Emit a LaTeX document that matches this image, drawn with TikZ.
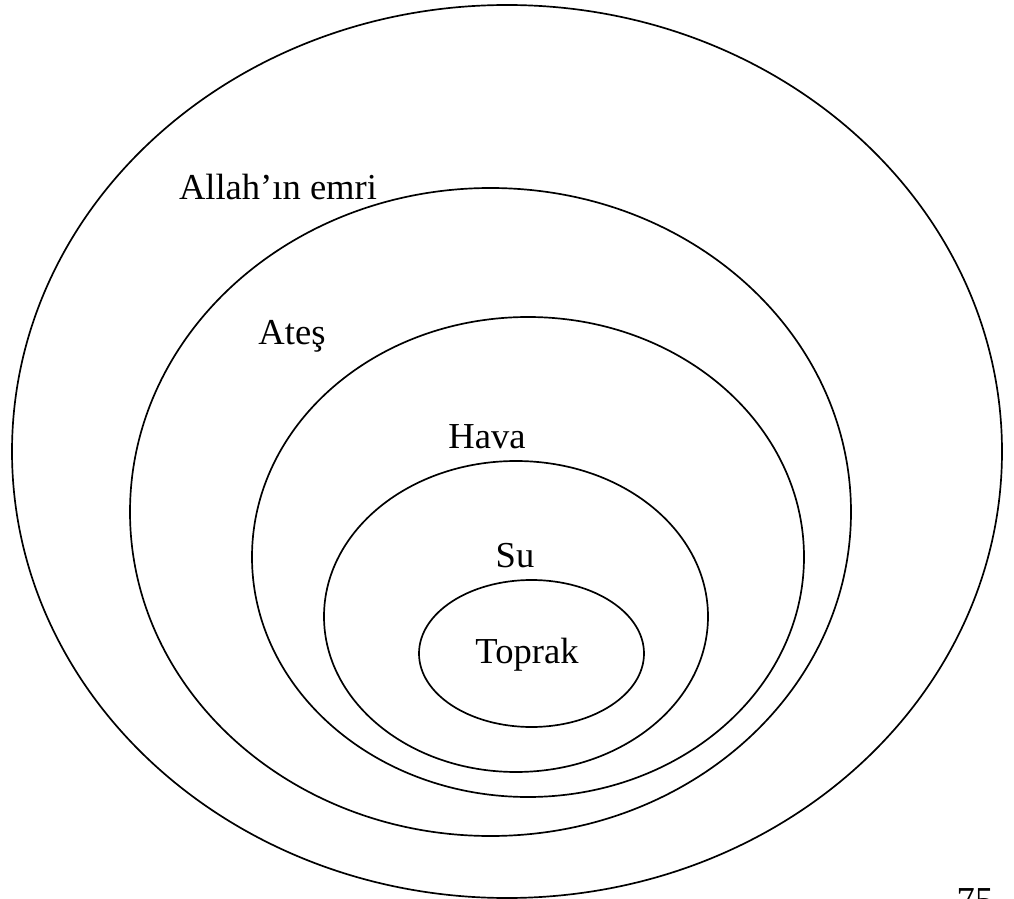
\documentclass[tikz,border=0pt]{standalone}
\usepackage{fontspec}
\setmainfont{Liberation Serif}
\newfontfamily\etiketfont{Liberation Serif}
\usepackage{tikz}

\tikzset{
  katman/.style={black, line width=1.2pt},
  etiket/.style={anchor=base, inner sep=0pt, font=\etiketfont\fontsize{26}{30}\selectfont}
}

\begin{document}
\begin{tikzpicture}[x=0.025cm, y=-0.025cm]
      \useasboundingbox (0,0) rectangle (1014,899);

      % 1. elipslerin merkezleri
      \coordinate (O_1) at (507,451.5);
      \coordinate (O_2) at (490.5,512);
      \coordinate (O_3) at (528,557);
      \coordinate (O_4) at (516,616.5);
      \coordinate (O_5) at (531.5,653.5);

      % 2. iç içe elipsler
      \draw[katman] (O_1) ellipse [x radius=495, y radius=446.5];
      \draw[katman] (O_2) ellipse [x radius=360.5, y radius=324];
      \draw[katman] (O_3) ellipse [x radius=276, y radius=240];
      \draw[katman] (O_4) ellipse [x radius=192, y radius=155.5];
      \draw[katman] (O_5) ellipse [x radius=112.5, y radius=73.5];

      % 3. etiketler
      \node[etiket] (emir) at (278,200) {Allah’ın emri};
      \node[etiket] (ates) at (292,345) {Ateş};
      \node[etiket] (hava) at (487,448) {Hava};
      \node[etiket] (su) at (515,567) {Su};
      \node[etiket] (toprak) at (527,663) {Toprak};

      % 4. sayfa numarası (alttan kesik)
      \node[etiket] (sayfa) at (975,912) {75};
\end{tikzpicture}
\end{document}
